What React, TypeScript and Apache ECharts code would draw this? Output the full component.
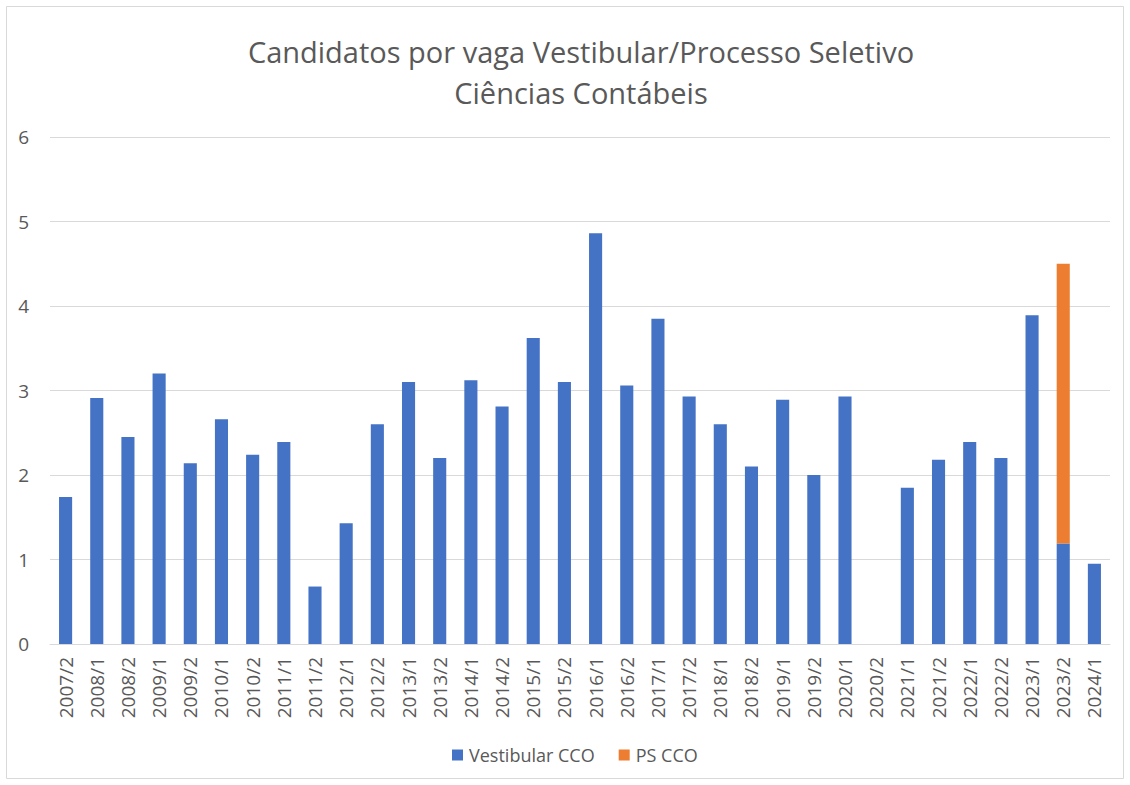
import React, { useEffect, useRef } from "react";
import * as echarts from "echarts";

const categories = [
  "2007/2", "2008/1", "2008/2", "2009/1", "2009/2", "2010/1", "2010/2", "2011/1", "2011/2",
  "2012/1", "2012/2", "2013/1", "2013/2", "2014/1", "2014/2", "2015/1", "2015/2", "2016/1",
  "2016/2", "2017/1", "2017/2", "2018/1", "2018/2", "2019/1", "2019/2", "2020/1", "2020/2",
  "2021/1", "2021/2", "2022/1", "2022/2", "2023/1", "2023/2", "2024/1",
];

const vestibularCCO: (number | null)[] = [
  1.74, 2.91, 2.45, 3.2, 2.14, 2.66, 2.24, 2.39, 0.68,
  1.43, 2.6, 3.1, 2.2, 3.12, 2.81, 3.62, 3.1, 4.86,
  3.06, 3.85, 2.93, 2.6, 2.1, 2.89, 2.0, 2.93, null,
  1.85, 2.18, 2.39, 2.2, 3.89, 1.19, 0.95,
];

const psCCO: (number | null)[] = [
  null, null, null, null, null, null, null, null, null,
  null, null, null, null, null, null, null, null, null,
  null, null, null, null, null, null, null, null, null,
  null, null, null, null, null, 3.31, null,
];

const yTicks = [0, 1, 2, 3, 4, 5, 6];

const titleLines = ["Candidatos por vaga Vestibular/Processo Seletivo", "Ciências Contábeis"];

export default function App() {
  const ref = useRef<HTMLDivElement>(null);
  useEffect(() => {
    if (!ref.current) return;
    const chart = echarts.init(ref.current, null, { renderer: "svg" });
    const font = "'Open Sans', 'Liberation Sans', sans-serif";
    chart.setOption({
      animation: false,
      textStyle: { fontFamily: font },
      graphic: [
        {
          type: "rect",
          shape: { x: 6.5, y: 6.5, width: 1117, height: 772 },
          style: { fill: "none", stroke: "#d9d9d9", lineWidth: 1 },
          silent: true,
          z: -1,
        },
      ],
      title: {
        text: titleLines.join("\n"),
        left: 576,
        top: 26,
        textAlign: "center",
        textStyle: {
          fontFamily: font,
          fontSize: 29,
          fontWeight: "normal",
          color: "#595959",
          lineHeight: 41,
        },
      },
      legend: {
        top: 746,
        left: 452,
        padding: 0,
        itemWidth: 11,
        itemHeight: 11,
        itemGap: 24,
        icon: "rect",
        textStyle: { fontFamily: font, fontSize: 18, color: "#595959", padding: [0, 0, 0, 1] },
        data: ["Vestibular CCO", "PS CCO"],
      },
      grid: { left: 50, right: 20, top: 137, bottom: 141, containLabel: false },
      xAxis: {
        type: "category",
        data: categories,
        axisLine: { lineStyle: { color: "#d9d9d9", width: 1 } },
        axisTick: { show: false },
        axisLabel: {
          rotate: 90,
          interval: 0,
          fontFamily: font,
          fontSize: 19,
          color: "#595959",
          margin: 13,
        },
      },
      yAxis: {
        type: "value",
        min: 0,
        max: 6,
        interval: 1,
        axisLine: { show: false },
        axisTick: { show: false },
        splitLine: { lineStyle: { color: "#d9d9d9", width: 1 } },
        axisLabel: {
          fontFamily: font,
          fontSize: 19,
          color: "#595959",
          margin: 21,
          formatter: (v: number) => (yTicks.includes(v) ? String(v) : ""),
        },
      },
      series: [
        {
          name: "Vestibular CCO",
          type: "bar",
          stack: "total",
          data: vestibularCCO,
          barWidth: "42%",
          itemStyle: { color: "#4472C4" },
        },
        {
          name: "PS CCO",
          type: "bar",
          stack: "total",
          data: psCCO,
          barWidth: "42%",
          itemStyle: { color: "#ED7D31" },
        },
      ],
    });
    return () => chart.dispose();
  }, []);
  return (
    <div
      ref={ref}
      style={{ position: "absolute", left: 0, top: 0, width: 1130, height: 785 }}
    />
  );
}
